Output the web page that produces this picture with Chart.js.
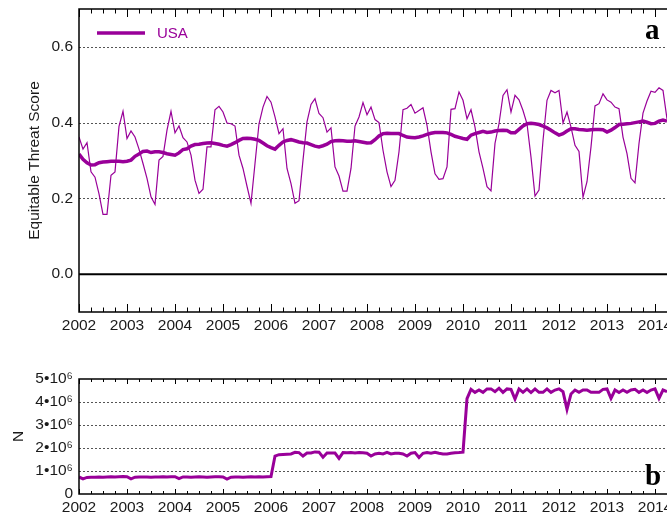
<!DOCTYPE html>
<html>
<head>
<meta charset="utf-8">
<script src="https://cdn.jsdelivr.net/npm/chart.js@4/dist/chart.umd.min.js"></script>
<style>
  html, body { margin: 0; padding: 0; background: #fff; overflow: hidden; width: 667px; height: 518px; }
  canvas { position: absolute; left: 0; }
  #etsChart { top: 0; }
  #countChart { top: 360px; }
</style>
</head>
<body>
<canvas id="etsChart" width="700" height="340"></canvas>
<canvas id="countChart" width="700" height="158"></canvas>
<script>

var startYear = 2002;
var yearTicks = [2002, 2003, 2004, 2005, 2006, 2007, 2008, 2009, 2010, 2011, 2012, 2013, 2014];
var etsTicks = [0, 0.2, 0.4, 0.6];
var countTicks = [0, 1, 2, 3, 4, 5];
var regionName = 'USA';

// monthly equitable threat score, Jan 2002 onwards
var etsMonthly = [
    0.362, 0.330, 0.347, 0.270, 0.256, 0.212, 0.158, 0.158, 0.261, 0.270, 0.390, 0.430,
    0.358, 0.378, 0.362, 0.330, 0.292, 0.253, 0.204, 0.184, 0.301, 0.311, 0.380, 0.430,
    0.373, 0.391, 0.360, 0.349, 0.314, 0.248, 0.213, 0.224, 0.336, 0.336, 0.434, 0.443,
    0.428, 0.399, 0.397, 0.391, 0.314, 0.279, 0.232, 0.187, 0.292, 0.397, 0.441, 0.469,
    0.454, 0.415, 0.371, 0.384, 0.279, 0.239, 0.187, 0.194, 0.301, 0.402, 0.448, 0.463,
    0.424, 0.413, 0.375, 0.386, 0.283, 0.259, 0.219, 0.219, 0.279, 0.391, 0.415, 0.453,
    0.421, 0.441, 0.408, 0.400, 0.327, 0.270, 0.231, 0.248, 0.323, 0.434, 0.438, 0.448,
    0.425, 0.432, 0.439, 0.393, 0.323, 0.265, 0.250, 0.252, 0.283, 0.435, 0.437, 0.481,
    0.459, 0.410, 0.434, 0.388, 0.323, 0.279, 0.231, 0.220, 0.345, 0.397, 0.472, 0.487,
    0.428, 0.472, 0.460, 0.432, 0.397, 0.309, 0.206, 0.222, 0.353, 0.459, 0.485, 0.479,
    0.485, 0.399, 0.428, 0.388, 0.340, 0.324, 0.203, 0.244, 0.336, 0.444, 0.450, 0.476,
    0.460, 0.454, 0.441, 0.437, 0.362, 0.318, 0.253, 0.241, 0.345, 0.425, 0.457, 0.483,
    0.480, 0.492, 0.485, 0.410
];

// 12-month running mean of the score
var etsRunning = [
    0.317, 0.303, 0.294, 0.288, 0.289, 0.294, 0.296, 0.297, 0.298, 0.298, 0.298, 0.297,
    0.298, 0.301, 0.311, 0.317, 0.324, 0.325, 0.321, 0.323, 0.323, 0.321, 0.318, 0.316,
    0.314, 0.320, 0.329, 0.331, 0.338, 0.342, 0.343, 0.345, 0.346, 0.347, 0.345, 0.343,
    0.340, 0.338, 0.342, 0.347, 0.353, 0.358, 0.359, 0.358, 0.356, 0.353, 0.346, 0.339,
    0.334, 0.330, 0.340, 0.349, 0.353, 0.355, 0.352, 0.349, 0.347, 0.346, 0.342, 0.338,
    0.336, 0.339, 0.343, 0.350, 0.352, 0.353, 0.352, 0.351, 0.351, 0.352, 0.350, 0.348,
    0.346, 0.347, 0.355, 0.365, 0.371, 0.372, 0.371, 0.371, 0.371, 0.366, 0.362, 0.361,
    0.360, 0.362, 0.365, 0.369, 0.372, 0.374, 0.374, 0.374, 0.373, 0.369, 0.364, 0.361,
    0.358, 0.356, 0.367, 0.371, 0.374, 0.377, 0.374, 0.375, 0.378, 0.379, 0.380, 0.379,
    0.373, 0.373, 0.382, 0.391, 0.397, 0.398, 0.397, 0.395, 0.391, 0.386, 0.380, 0.373,
    0.367, 0.371, 0.378, 0.384, 0.384, 0.382, 0.381, 0.380, 0.381, 0.382, 0.382, 0.381,
    0.375, 0.380, 0.387, 0.395, 0.396, 0.397, 0.398, 0.400, 0.402, 0.404, 0.401, 0.397,
    0.398, 0.404, 0.407, 0.404
];

// number of verified samples per month, in millions
var countMillions = [
    0.74, 0.66, 0.72, 0.73, 0.73, 0.74, 0.73, 0.74, 0.75, 0.74, 0.75, 0.76,
    0.75, 0.66, 0.73, 0.74, 0.74, 0.74, 0.73, 0.74, 0.74, 0.75, 0.74, 0.75,
    0.75, 0.67, 0.74, 0.74, 0.73, 0.74, 0.75, 0.74, 0.73, 0.74, 0.75, 0.75,
    0.74, 0.65, 0.73, 0.74, 0.74, 0.73, 0.74, 0.75, 0.74, 0.75, 0.74, 0.75,
    0.76, 1.65, 1.71, 1.72, 1.73, 1.74, 1.81, 1.80, 1.65, 1.78, 1.78, 1.83,
    1.82, 1.60, 1.78, 1.78, 1.78, 1.55, 1.80, 1.79, 1.80, 1.78, 1.80, 1.79,
    1.77, 1.65, 1.74, 1.77, 1.74, 1.81, 1.74, 1.77, 1.77, 1.74, 1.65, 1.77,
    1.80, 1.59, 1.77, 1.80, 1.77, 1.81, 1.77, 1.74, 1.74, 1.77, 1.79, 1.80,
    1.82, 4.15, 4.55, 4.42, 4.52, 4.42, 4.57, 4.57, 4.45, 4.60, 4.42, 4.57,
    4.55, 4.13, 4.57, 4.42, 4.57, 4.41, 4.57, 4.42, 4.42, 4.57, 4.42, 4.52,
    4.57, 4.45, 3.68, 4.35, 4.52, 4.42, 4.52, 4.52, 4.42, 4.42, 4.42, 4.55,
    4.57, 4.16, 4.52, 4.41, 4.52, 4.42, 4.52, 4.55, 4.42, 4.52, 4.41, 4.52,
    4.57, 4.16, 4.52, 4.45
];

var purple = '#990099';
var textColor = '#1a1a1a';
var sans = "'Liberation Sans', Arial, sans-serif";

function toPoints(values) {
    return values.map(function (v, i) { return { x: startYear + i / 12, y: v }; });
}

// dotted grid under the lines, box + inward ticks + panel letter on top
var framePlugin = {
    id: 'frame',
    beforeDatasetsDraw: function (chart, args, opts) {
        var ctx = chart.ctx, area = chart.chartArea, ys = chart.scales.y;
        ctx.save();
        ctx.strokeStyle = '#555';
        ctx.lineWidth = 1;
        ctx.setLineDash([2, 2]);
        opts.dotted.forEach(function (v) {
            var py = Math.round(ys.getPixelForValue(v)) + 0.5;
            ctx.beginPath();
            ctx.moveTo(area.left, py);
            ctx.lineTo(area.right, py);
            ctx.stroke();
        });
        ctx.restore();
    },
    afterDatasetsDraw: function (chart, args, opts) {
        var ctx = chart.ctx, area = chart.chartArea;
        var xs = chart.scales.x, ys = chart.scales.y;
        ctx.save();
        ctx.strokeStyle = '#000';
        ctx.lineWidth = 1.5;
        ctx.beginPath();
        ctx.moveTo(area.right, area.top);
        ctx.lineTo(area.left, area.top);
        ctx.lineTo(area.left, area.bottom);
        ctx.lineTo(area.right, area.bottom);
        ctx.stroke();

        if (opts.zeroLine) {
            var zy = ys.getPixelForValue(0);
            ctx.lineWidth = 2;
            ctx.beginPath();
            ctx.moveTo(area.left, zy);
            ctx.lineTo(area.right, zy);
            ctx.stroke();
        }

        // quarter-year ticks, longer on whole years
        ctx.lineWidth = 1;
        for (var k = 0; startYear + k / 4 <= xs.max; k++) {
            var px = Math.round(xs.getPixelForValue(startYear + k / 4)) + 0.5;
            var len = (k % 4 === 0) ? opts.major : opts.minor;
            ctx.beginPath();
            ctx.moveTo(px, area.top);
            ctx.lineTo(px, area.top + len);
            ctx.moveTo(px, area.bottom);
            ctx.lineTo(px, area.bottom - len);
            ctx.stroke();
        }

        ctx.fillStyle = '#000';
        ctx.font = "bold 29px 'Liberation Serif', 'Times New Roman', serif";
        ctx.textAlign = 'left';
        ctx.textBaseline = 'alphabetic';
        ctx.fillText(opts.letter, opts.letterX, opts.letterY);

        if (opts.legend) {
            var ds = chart.data.datasets[1];
            var ly = area.top + 24;
            ctx.strokeStyle = ds.borderColor;
            ctx.lineWidth = 3.5;
            ctx.beginPath();
            ctx.moveTo(area.left + 18, ly);
            ctx.lineTo(area.left + 66, ly);
            ctx.stroke();
            ctx.fillStyle = ds.borderColor;
            ctx.font = '15px ' + sans;
            ctx.textBaseline = 'middle';
            ctx.fillText(ds.label, area.left + 78, ly + 1);
        }
        ctx.restore();
    }
};

function xAxis(height) {
    return {
        type: 'linear',
        min: 2002,
        max: 2014.5,
        afterBuildTicks: function (s) { s.ticks = yearTicks.map(function (v) { return { value: v }; }); },
        afterFit: function (s) {
            s.height = height;
            s.paddingLeft = 0;
            s.paddingRight = 0;
        },
        grid: { display: false, drawTicks: false },
        border: { display: false },
        ticks: {
            autoSkip: false, maxRotation: 0, padding: 4, color: textColor,
            font: { family: sans, size: 15.5 },
            callback: function (v) { return String(v); }
        }
    };
}

function yFit(s) {
    s.width = 79;
    s.paddingTop = 0;
    s.paddingBottom = 0;
}

new Chart(document.getElementById('etsChart'), {
    type: 'line',
    data: {
        datasets: [{
            label: regionName + ' monthly',
            data: toPoints(etsMonthly),
            borderColor: purple,
            borderWidth: 1.2,
            pointRadius: 0,
            tension: 0
        }, {
            label: regionName,
            data: toPoints(etsRunning),
            borderColor: purple,
            borderWidth: 3.5,
            pointRadius: 0,
            tension: 0
        }]
    },
    options: {
        responsive: false,
        animation: false,
        devicePixelRatio: 1,
        layout: { padding: { top: 9, right: 21, left: 0, bottom: 0 } },
        plugins: {
            legend: { display: false },
            tooltip: { enabled: false },
            frame: { dotted: [0.2, 0.4, 0.6], zeroLine: true, major: 8, minor: 4.5, letter: 'a', letterX: 645, letterY: 39, legend: true }
        },
        scales: {
            x: xAxis(28),
            y: {
                min: -0.1,
                max: 0.7,
                afterBuildTicks: function (s) { s.ticks = etsTicks.map(function (v) { return { value: v }; }); },
                afterFit: yFit,
                grid: { display: false, drawTicks: false },
                border: { display: false },
                ticks: {
                    padding: 6, color: textColor,
                    font: { family: sans, size: 15.5, lineHeight: 1 },
                    callback: function (v) { return v.toFixed(1); }
                },
                title: {
                    display: true, text: 'Equitable Threat Score', color: textColor,
                    font: { family: sans, size: 15.5 },
                    padding: { top: 25, bottom: 0 }
                }
            }
        }
    },
    plugins: [framePlugin]
});

new Chart(document.getElementById('countChart'), {
    type: 'line',
    data: {
        datasets: [{
            label: 'N',
            data: toPoints(countMillions),
            borderColor: purple,
            borderWidth: 3,
            pointRadius: 0,
            tension: 0
        }]
    },
    options: {
        responsive: false,
        animation: false,
        devicePixelRatio: 1,
        layout: { padding: { top: 19, right: 21, left: 0, bottom: 0 } },
        plugins: {
            legend: { display: false },
            tooltip: { enabled: false },
            frame: { dotted: [1, 2, 3, 4], zeroLine: false, major: 5, minor: 3, letter: 'b', letterX: 645, letterY: 125, legend: false }
        },
        scales: {
            x: xAxis(24),
            y: {
                min: 0,
                max: 5,
                afterBuildTicks: function (s) { s.ticks = countTicks.map(function (v) { return { value: v }; }); },
                afterFit: yFit,
                grid: { display: false, drawTicks: false },
                border: { display: false },
                ticks: {
                    padding: 6, color: textColor,
                    font: { family: sans, size: 15.5, lineHeight: 1 },
                    callback: function (v) { return v === 0 ? '0' : v + '\u202210\u2076'; }
                },
                title: {
                    display: true, text: 'N', color: textColor,
                    font: { family: sans, size: 15.5 },
                    padding: { top: 9, bottom: 0 }
                }
            }
        }
    },
    plugins: [framePlugin]
});

</script>
</body>
</html>
